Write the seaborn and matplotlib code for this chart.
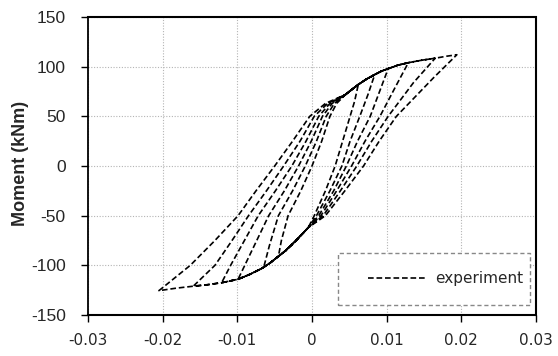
import matplotlib
matplotlib.use("Agg")
import matplotlib.pyplot as plt
from matplotlib.patches import Rectangle
from matplotlib.lines import Line2D
import numpy as np
import pandas as pd
import seaborn as sns

# ---------------- data (rotation [rad], moment [kNm]) ----------------
upper_bb_x = [0.0045, 0.0055, 0.0062, 0.0073, 0.0084, 0.0093, 0.0102, 0.0115, 0.0129, 0.0147, 0.0165, 0.0180, 0.0194]
upper_bb_y = [72.0, 78.0, 82.0, 87.5, 92.0, 95.5, 98.0, 101.5, 104.0, 106.5, 108.5, 110.5, 112.0]

lower_bb_x = [-0.0005, -0.0020, -0.0035, -0.0045, -0.0056, -0.0067, -0.0083, -0.0099, -0.0121, -0.0140, -0.0159, -0.0182, -0.0205]
lower_bb_y = [-62.0, -74.0, -85.0, -91.0, -97.5, -103.0, -109.0, -114.0, -117.5, -119.5, -121.0, -123.0, -125.5]

peak_pos_x = [0.0062, 0.0084, 0.0102, 0.0129, 0.0165, 0.0194]
peak_neg_x = [-0.0045, -0.0067, -0.0099, -0.0121, -0.0159, -0.0205]

# unloading from positive peaks (points after the peak)
unload1_x = [0.0057, 0.0051, 0.0041, 0.0031, 0.0018, 0.0003]
unload1_y = [65.0, 50.0, 25.0, 0.0, -25.0, -50.0]
unload2_x = [0.0075, 0.0064, 0.0051, 0.0040, 0.0024, 0.0006]
unload2_y = [72.0, 50.0, 25.0, 0.0, -25.0, -50.0]
unload3_x = [0.0092, 0.0078, 0.0061, 0.0046, 0.0029, 0.0009]
unload3_y = [78.0, 50.0, 25.0, 0.0, -25.0, -50.0]
unload4_x = [0.0112, 0.0091, 0.0071, 0.0053, 0.0033, 0.0012]
unload4_y = [80.0, 50.0, 25.0, 0.0, -25.0, -50.0]
unload5_x = [0.0136, 0.0102, 0.0080, 0.0060, 0.0038, 0.0015]
unload5_y = [84.0, 50.0, 25.0, 0.0, -25.0, -50.0]
unload6_x = [0.0163, 0.0113, 0.0090, 0.0069, 0.0044, 0.0018]
unload6_y = [89.0, 50.0, 25.0, 0.0, -25.0, -50.0]

# reloading from negative peaks (points after the peak)
reload1_x = [-0.0041, -0.0032, -0.0015, 0.0000, 0.0013, 0.0024, 0.0033]
reload1_y = [-75.0, -50.0, -25.0, 0.0, 25.0, 50.0, 63.0]
reload2_x = [-0.0064, -0.0057, -0.0045, -0.0026, -0.0009, 0.0006, 0.0019, 0.0030]
reload2_y = [-100.0, -80.0, -50.0, -25.0, 0.0, 25.0, 50.0, 63.0]
reload3_x = [-0.0090, -0.0076, -0.0058, -0.0037, -0.0018, -0.0001, 0.0014, 0.0027]
reload3_y = [-100.0, -78.0, -50.0, -25.0, 0.0, 25.0, 50.0, 63.0]
reload4_x = [-0.0109, -0.0092, -0.0072, -0.0049, -0.0027, -0.0008, 0.0009, 0.0024]
reload4_y = [-100.0, -77.0, -50.0, -25.0, 0.0, 25.0, 50.0, 63.0]
reload5_x = [-0.0130, -0.0108, -0.0085, -0.0061, -0.0038, -0.0016, 0.0003, 0.0021]
reload5_y = [-100.0, -76.0, -50.0, -25.0, 0.0, 25.0, 50.0, 63.0]
reload6_x = [-0.0163, -0.0130, -0.0099, -0.0075, -0.0050, -0.0026, -0.0003, 0.0018]
reload6_y = [-100.0, -75.0, -50.0, -25.0, 0.0, 25.0, 50.0, 63.0]

x_ticks = [-0.03, -0.02, -0.01, 0, 0.01, 0.02, 0.03]
x_tick_labels = ["-0.03", "-0.02", "-0.01", "0", "0.01", "0.02", "0.03"]
y_ticks = [-150, -100, -50, 0, 50, 100, 150]
y_tick_labels = ["-150", "-100", "-50", "0", "50", "100", "150"]
series_label = "experiment"
y_title = "Moment (kNm)"

# ---------------- assemble the loading path ----------------
unloads = [(unload1_x, unload1_y), (unload2_x, unload2_y), (unload3_x, unload3_y),
           (unload4_x, unload4_y), (unload5_x, unload5_y), (unload6_x, unload6_y)]
reloads = [(reload1_x, reload1_y), (reload2_x, reload2_y), (reload3_x, reload3_y),
           (reload4_x, reload4_y), (reload5_x, reload5_y), (reload6_x, reload6_y)]

px, py = [], []
for bx, by in zip(upper_bb_x, upper_bb_y):
    if bx <= peak_pos_x[0] + 1e-9:
        px.append(bx); py.append(by)
for i in range(6):
    ux, uy = unloads[i]
    px += ux; py += uy
    for bx, by in zip(lower_bb_x, lower_bb_y):
        if bx >= peak_neg_x[i] - 1e-9:
            px.append(bx); py.append(by)
    rx, ry = reloads[i]
    px += rx; py += ry
    limit = peak_pos_x[i + 1] if i < 5 else upper_bb_x[1]
    for bx, by in zip(upper_bb_x, upper_bb_y):
        if bx <= limit + 1e-9:
            px.append(bx); py.append(by)

df = pd.DataFrame({"rot": px, "mom": py, "step": np.arange(len(px))})

# ---------------- plot ----------------
sns.set_style("white")
fig = plt.figure(figsize=(5.58, 3.56), dpi=100)
ax = fig.add_axes([88 / 558, 41 / 356, 448 / 558, 298 / 356])

dash = (0, (3.4, 1.7))
sns.lineplot(data=df, x="rot", y="mom", sort=False, estimator=None, ax=ax,
             color="black", linestyle=dash, linewidth=1.2, legend=False)

ax.set_xlim(-0.03, 0.03)
ax.set_ylim(-150, 150)
ax.set_xticks(x_ticks)
ax.set_xticklabels(x_tick_labels, family="DejaVu Sans", fontsize=11)
ax.set_yticks(y_ticks)
ax.set_yticklabels(y_tick_labels, family="Liberation Sans", fontsize=12.5)
ax.set_xlabel("")
ax.set_ylabel(y_title, family="Liberation Sans", fontsize=13, fontweight="bold")
ax.yaxis.set_label_coords(-0.132, 0.51)

ax.grid(True, color="#b4b4b4", linestyle=(0, (1, 1.5)), linewidth=0.8)
ax.set_axisbelow(True)
ax.tick_params(axis="y", direction="out", length=5, width=1, color="black", pad=11, left=True)
ax.tick_params(axis="x", direction="out", length=5, width=1, color="black", pad=8, bottom=True)

for name, sp in ax.spines.items():
    sp.set_visible(True)
    sp.set_color("black")
    if name == "left":
        sp.set_linewidth(1.3)
        sp.set_linestyle("-")
    else:
        sp.set_linewidth(1.5)
        sp.set_linestyle((0, (1, 1)))

# legend box
box = Rectangle((0.558, 0.034), 0.429, 0.174, transform=ax.transAxes, fill=True,
                facecolor="white", edgecolor="#888888", linestyle=(0, (3, 2)),
                linewidth=1.0, zorder=4)
ax.add_patch(box)
handle = Line2D([], [], color="black", linestyle=dash, linewidth=1.2)
leg = ax.legend([handle], [series_label], loc="center right",
                bbox_to_anchor=(0.972, 0.121), frameon=False,
                prop={"family": "DejaVu Sans", "size": 11},
                handlelength=3.8, handletextpad=0.6, borderaxespad=0.0, borderpad=0.0)
leg.set_zorder(5)

fig.savefig("out.png", dpi=100)
